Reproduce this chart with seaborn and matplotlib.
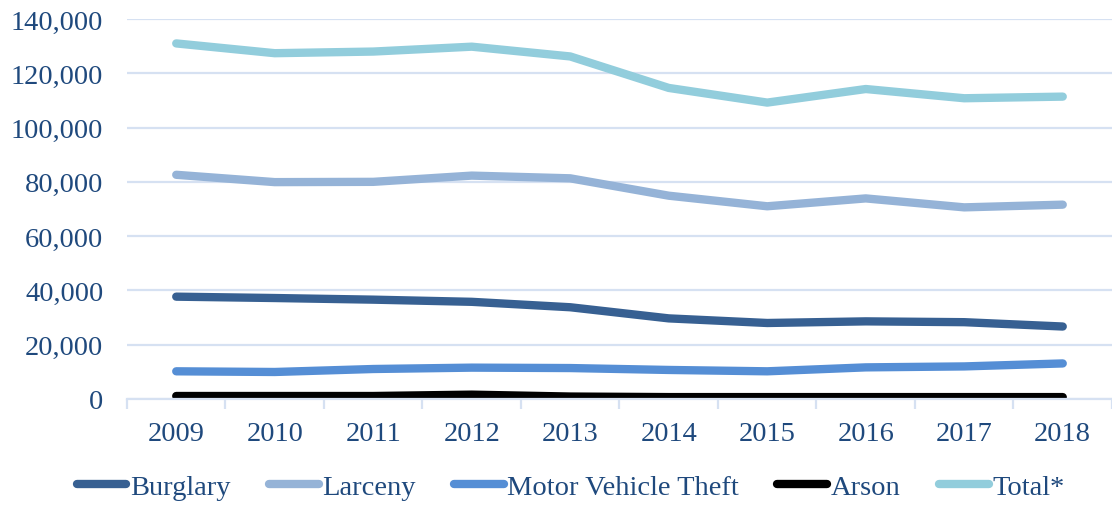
import matplotlib
matplotlib.use("Agg")
import matplotlib.pyplot as plt
import matplotlib.ticker as mticker
import pandas as pd
import seaborn as sns

''' DATA READ OFF THE CHART
'''
years = [2009, 2010, 2011, 2012, 2013, 2014, 2015, 2016, 2017, 2018]
burglary = [37700, 37200, 36600, 35800, 33800, 29700, 28000, 28600, 28300, 26700]
larceny = [82600, 79900, 80000, 82300, 81300, 74900, 71000, 73900, 70600, 71600]
motor_vehicle_theft = [10200, 9950, 11050, 11550, 11400, 10700, 10200, 11650, 12000, 13100]
arson = [1100, 1100, 1100, 1600, 900, 700, 700, 700, 700, 700]
total = [131000, 127400, 128000, 129800, 126200, 114600, 109200, 114200, 110800, 111400]

series_names = ['Burglary', 'Larceny', 'Motor Vehicle Theft', 'Arson', 'Total*']
pal = ['#376092', '#95B3D7', '#558ED5', '#000000', '#92CDDC']
text_col = '#1F497D'
grid_col = '#D6E1F2'
fs = 20.5

''' BUILD LONG TABLE
'''
frames = []
for name, vals in zip(series_names, [burglary, larceny, motor_vehicle_theft, arson, total]):
    frames.append(pd.DataFrame({'Year': years, 'Count': vals, 'Crime': name}))
df = pd.concat(frames, ignore_index=True)

sns.set_style("white")
plt.rcParams['font.family'] = ['Liberation Serif', 'DejaVu Serif']

fig = plt.figure(figsize=(11.12, 5.10), dpi=100)
ax = fig.add_axes([0.1142, 0.2157, 0.8858, 0.7451])

sns.lineplot(data=df, x='Year', y='Count', hue='Crime', hue_order=series_names,
             palette=pal, linewidth=6.0, ax=ax, legend=False,
             solid_capstyle='round', solid_joinstyle='round')

# axes cosmetics
ax.set_xlim(2008.5, 2018.5)
ax.set_ylim(0, 140000)
ax.set_xticks(years)
ax.set_xticks([y + 0.5 for y in [2008] + years], minor=True)
ax.yaxis.set_major_locator(mticker.MultipleLocator(20000))
ax.yaxis.set_major_formatter(mticker.FuncFormatter(lambda v, p: '{:,.0f}'.format(v)))
ax.grid(axis='y', color=grid_col, linewidth=1.6)
ax.set_axisbelow(True)
ax.set_xlabel('')
ax.set_ylabel('')
sns.despine(ax=ax, left=True, top=True, right=True)
ax.spines['bottom'].set_color(grid_col)
ax.spines['bottom'].set_linewidth(1.6)
ax.tick_params(axis='x', which='major', length=0, pad=16, labelsize=fs, labelcolor=text_col)
ax.tick_params(axis='x', which='minor', length=7, width=1.6, color=grid_col, bottom=True)
ax.tick_params(axis='y', length=0, pad=17, labelsize=fs, labelcolor=text_col)

# legend along the bottom
handles = [plt.Line2D([0], [0], color=c, lw=6.0, solid_capstyle='round') for c in pal]
leg = fig.legend(handles, series_names, loc='center', bbox_to_anchor=(0.513, 0.043),
                 ncol=5, frameon=False, fontsize=fs, handlelength=1.75,
                 handletextpad=0.12, columnspacing=1.35)
for t in leg.get_texts():
    t.set_color(text_col)

plt.savefig('out.png', dpi=100)
plt.close()
